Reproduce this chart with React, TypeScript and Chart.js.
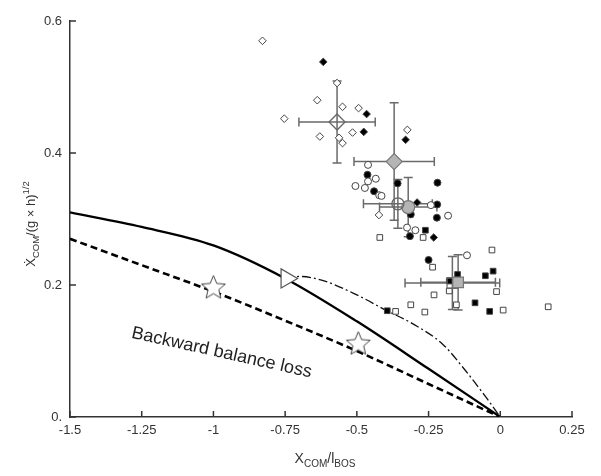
import { useEffect, useRef } from "react";
import { Chart, registerables } from "chart.js";

Chart.register(...registerables);

const xTickValues = [-1.5, -1.25, -1, -0.75, -0.5, -0.25, 0, 0.25];
const xTickLabels = ["-1.5", "-1.25", "-1", "-0.75", "-0.5", "-0.25", "0", "0.25"];
const yTickValues = [0, 0.2, 0.4, 0.6];
const yTickLabels = ["0.", "0.2", "0.4", "0.6"];

// boundary curves
const solidX = [-1.5, -1.25, -1.0, -0.75, -0.5, -0.25, 0];
const solidY = [0.31, 0.288, 0.26, 0.21, 0.145, 0.073, 0];
const dashedX = [-1.5, -1.25, -1.0, -0.75, -0.5, -0.25, 0];
const dashedY = [0.27, 0.23, 0.19, 0.146, 0.1, 0.05, 0];
const dashDotX = [-0.75, -0.7, -0.62, -0.5, -0.4, -0.3, -0.2, -0.13, -0.05, 0];
const dashDotY = [0.21, 0.213, 0.207, 0.185, 0.162, 0.14, 0.11, 0.075, 0.03, 0];

// special markers
const triangleX = [-0.745];
const triangleY = [0.21];
const starX = [-1.0, -0.495];
const starY = [0.197, 0.112];

// individual subjects
const openDiamondX = [-0.829, -0.569, -0.638, -0.55, -0.494, -0.753, -0.629, -0.515, -0.562, -0.55, -0.324, -0.423];
const openDiamondY = [0.57, 0.506, 0.48, 0.47, 0.468, 0.452, 0.425, 0.431, 0.423, 0.415, 0.435, 0.306];
const filledDiamondX = [-0.617, -0.466, -0.476, -0.33, -0.29, -0.232];
const filledDiamondY = [0.538, 0.459, 0.432, 0.42, 0.325, 0.272];
const openCircleX = [-0.461, -0.434, -0.461, -0.505, -0.472, -0.422, -0.414, -0.242, -0.182, -0.325, -0.296, -0.116];
const openCircleY = [0.382, 0.361, 0.357, 0.35, 0.347, 0.336, 0.335, 0.321, 0.305, 0.287, 0.283, 0.245];
const filledCircleX = [-0.463, -0.44, -0.358, -0.219, -0.22, -0.312, -0.221, -0.315, -0.25];
const filledCircleY = [0.367, 0.342, 0.354, 0.355, 0.322, 0.307, 0.302, 0.274, 0.238];
const openSquareX = [-0.42, -0.269, -0.029, -0.236, -0.178, -0.013, -0.231, -0.312, -0.153, -0.263, 0.01, -0.365, 0.167];
const openSquareY = [0.272, 0.272, 0.253, 0.227, 0.191, 0.19, 0.185, 0.17, 0.17, 0.159, 0.162, 0.16, 0.167];
const filledSquareX = [-0.261, -0.025, -0.052, -0.149, -0.178, -0.088, -0.037, -0.394];
const filledSquareY = [0.283, 0.221, 0.214, 0.216, 0.206, 0.173, 0.16, 0.161];

// group means and SDs: open diamond, grey diamond, open circle, grey circle, open square, grey square
const meanX = [-0.569, -0.37, -0.357, -0.321, -0.167, -0.147];
const meanY = [0.447, 0.387, 0.323, 0.318, 0.203, 0.204];
const meanErrX = [0.133, 0.14, 0.12, 0.1, 0.165, 0.13];
const meanErrY = [0.062, 0.089, 0.037, 0.045, 0.04, 0.042];

const FONT = "'Liberation Sans', Arial, Helvetica, sans-serif";

function pts(xs: number[], ys: number[]) {
  return xs.map((x, i) => ({ x, y: ys[i] }));
}

function makeStar(r: number) {
  const c = document.createElement("canvas");
  const s = Math.ceil(r * 2 + 4);
  c.width = s;
  c.height = s;
  const ctx = c.getContext("2d")!;
  const cx = s / 2;
  const cy = s / 2 + 1;
  ctx.beginPath();
  for (let i = 0; i < 10; i++) {
    const a = -Math.PI / 2 + (i * Math.PI) / 5;
    const rad = i % 2 ? r * 0.45 : r;
    const px = cx + rad * Math.cos(a);
    const py = cy + rad * Math.sin(a);
    if (i === 0) ctx.moveTo(px, py);
    else ctx.lineTo(px, py);
  }
  ctx.closePath();
  ctx.fillStyle = "#ffffff";
  ctx.fill();
  ctx.strokeStyle = "#444";
  ctx.lineWidth = 1;
  ctx.stroke();
  return c;
}

function drawSubText(
  ctx: CanvasRenderingContext2D,
  parts: { t: string; s: "n" | "sub" | "sup" }[],
  big: number,
  small: number
) {
  let w = 0;
  for (const p of parts) {
    ctx.font = `${p.s === "n" ? big : small}px ${FONT}`;
    w += ctx.measureText(p.t).width;
  }
  let x = -w / 2;
  for (const p of parts) {
    ctx.font = `${p.s === "n" ? big : small}px ${FONT}`;
    const dy = p.s === "sub" ? big * 0.3 : p.s === "sup" ? -big * 0.45 : 0;
    ctx.fillText(p.t, x, dy);
    x += ctx.measureText(p.t).width;
  }
}

const overlayPlugin = {
  id: "overlay",
  beforeDatasetsDraw(chart: any) {
    const { ctx, scales } = chart;
    const xs = scales.x;
    const ys = scales.y;
    ctx.save();
    ctx.strokeStyle = "#6a6a6a";
    ctx.lineWidth = 1.5;
    const cap = 4.5;
    meanX.forEach((mx, i) => {
      const px = xs.getPixelForValue(mx);
      const py = ys.getPixelForValue(meanY[i]);
      const x0 = xs.getPixelForValue(mx - meanErrX[i]);
      const x1 = xs.getPixelForValue(mx + meanErrX[i]);
      const y0 = ys.getPixelForValue(meanY[i] - meanErrY[i]);
      const y1 = ys.getPixelForValue(meanY[i] + meanErrY[i]);
      ctx.beginPath();
      ctx.moveTo(x0, py);
      ctx.lineTo(x1, py);
      ctx.moveTo(x0, py - cap);
      ctx.lineTo(x0, py + cap);
      ctx.moveTo(x1, py - cap);
      ctx.lineTo(x1, py + cap);
      ctx.moveTo(px, y0);
      ctx.lineTo(px, y1);
      ctx.moveTo(px - cap, y0);
      ctx.lineTo(px + cap, y0);
      ctx.moveTo(px - cap, y1);
      ctx.lineTo(px + cap, y1);
      ctx.stroke();
    });
    ctx.restore();
  },
  afterDraw(chart: any) {
    const { ctx, scales, chartArea } = chart;
    const xs = scales.x;
    const ys = scales.y;
    ctx.save();
    ctx.strokeStyle = "#333";
    ctx.lineWidth = 1.5;
    ctx.beginPath();
    xTickValues.forEach((v) => {
      const px = xs.getPixelForValue(v);
      ctx.moveTo(px, chartArea.bottom);
      ctx.lineTo(px, chartArea.bottom - 6);
    });
    yTickValues.forEach((v) => {
      const py = ys.getPixelForValue(v);
      ctx.moveTo(chartArea.left, py);
      ctx.lineTo(chartArea.left + 6, py);
    });
    ctx.stroke();

    ctx.fillStyle = "#333";
    ctx.textBaseline = "alphabetic";
    ctx.textAlign = "left";
    ctx.save();
    ctx.translate((chartArea.left + chartArea.right) / 2 + 4, 463);
    drawSubText(
      ctx,
      [
        { t: "X", s: "n" },
        { t: "COM", s: "sub" },
        { t: "/l", s: "n" },
        { t: "BOS", s: "sub" },
      ],
      14,
      10
    );
    ctx.restore();
    ctx.save();
    ctx.translate(35, (chartArea.top + chartArea.bottom) / 2 + 5);
    ctx.rotate(-Math.PI / 2);
    drawSubText(
      ctx,
      [
        { t: "\u1E8A", s: "n" },
        { t: "COM", s: "sub" },
        { t: "/(g \u00D7 h)", s: "n" },
        { t: "1/2", s: "sup" },
      ],
      13,
      9.5
    );
    ctx.restore();

    ctx.save();
    ctx.fillStyle = "#222";
    ctx.font = `18px ${FONT}`;
    ctx.textAlign = "center";
    ctx.translate(xs.getPixelForValue(-0.975), ys.getPixelForValue(0.09));
    ctx.rotate((12.5 * Math.PI) / 180);
    ctx.fillText("Backward balance loss", 0, 0);
    ctx.restore();

    ctx.restore();
  },
};

export default function App() {
  const ref = useRef<HTMLCanvasElement | null>(null);
  useEffect(() => {
    if (!ref.current) return;
    const star = makeStar(12.5);
    const small = { borderWidth: 1, borderColor: "#444" };
    const chart = new Chart(ref.current, {
      type: "scatter",
      data: {
        datasets: [
          {
            label: "open diamond mean",
            data: pts(meanX.slice(0, 1), meanY.slice(0, 1)),
            pointStyle: "rectRot",
            pointRadius: 8,
            backgroundColor: "rgba(255,255,255,0)",
            borderColor: "#666",
            borderWidth: 1.3,
          },
          {
            label: "grey diamond mean",
            data: pts(meanX.slice(1, 2), meanY.slice(1, 2)),
            pointStyle: "rectRot",
            pointRadius: 8,
            backgroundColor: "#b5b5b5",
            borderColor: "#777",
            borderWidth: 1.2,
          },
          {
            label: "open circle mean",
            data: pts(meanX.slice(2, 3), meanY.slice(2, 3)),
            pointStyle: "circle",
            pointRadius: 6,
            backgroundColor: "rgba(255,255,255,0)",
            borderColor: "#666",
            borderWidth: 1.3,
          },
          {
            label: "grey circle mean",
            data: pts(meanX.slice(3, 4), meanY.slice(3, 4)),
            pointStyle: "circle",
            pointRadius: 6.5,
            backgroundColor: "#b5b5b5",
            borderColor: "#777",
            borderWidth: 1.2,
          },
          {
            label: "grey square mean",
            data: pts(meanX.slice(5, 6), meanY.slice(5, 6)),
            pointStyle: "rect",
            pointRadius: 7.5,
            backgroundColor: "#b5b5b5",
            borderColor: "#777",
            borderWidth: 1.2,
          },
          {
            label: "open square mean",
            data: pts(meanX.slice(4, 5), meanY.slice(4, 5)),
            pointStyle: "rect",
            pointRadius: 7.5,
            backgroundColor: "rgba(255,255,255,0)",
            borderColor: "#666",
            borderWidth: 1.2,
          },
          {
            label: "open diamonds",
            data: pts(openDiamondX, openDiamondY),
            pointStyle: "rectRot",
            pointRadius: 3.8,
            backgroundColor: "#fff",
            ...small,
          },
          {
            label: "filled diamonds",
            data: pts(filledDiamondX, filledDiamondY),
            pointStyle: "rectRot",
            pointRadius: 3.8,
            backgroundColor: "#000",
            ...small,
          },
          {
            label: "open circles",
            data: pts(openCircleX, openCircleY),
            pointStyle: "circle",
            pointRadius: 3.5,
            backgroundColor: "#fff",
            ...small,
          },
          {
            label: "filled circles",
            data: pts(filledCircleX, filledCircleY),
            pointStyle: "circle",
            pointRadius: 3.5,
            backgroundColor: "#000",
            ...small,
          },
          {
            label: "open squares",
            data: pts(openSquareX, openSquareY),
            pointStyle: "rect",
            pointRadius: 4,
            backgroundColor: "#fff",
            ...small,
          },
          {
            label: "filled squares",
            data: pts(filledSquareX, filledSquareY),
            pointStyle: "rect",
            pointRadius: 4,
            backgroundColor: "#000",
            ...small,
          },
          {
            label: "stars",
            data: pts(starX, starY),
            pointStyle: star,
            pointRadius: 12.5,
          },
          {
            label: "triangle",
            data: pts(triangleX, triangleY),
            pointStyle: "triangle",
            rotation: 90,
            pointRadius: 11,
            backgroundColor: "#fff",
            borderColor: "#555",
            borderWidth: 1.2,
          },
          {
            label: "dash-dot",
            data: pts(dashDotX, dashDotY),
            showLine: true,
            pointRadius: 0,
            borderColor: "#111",
            borderWidth: 1.3,
            borderDash: [9, 3, 2, 3],
            cubicInterpolationMode: "monotone",
          },
          {
            label: "solid",
            data: pts(solidX, solidY),
            showLine: true,
            pointRadius: 0,
            borderColor: "#000",
            borderWidth: 2.3,
            cubicInterpolationMode: "monotone",
          },
          {
            label: "dashed",
            data: pts(dashedX, dashedY),
            showLine: true,
            pointRadius: 0,
            borderColor: "#000",
            borderWidth: 2.6,
            borderDash: [7, 4],
            cubicInterpolationMode: "monotone",
          },
        ] as any,
      },
      options: {
        animation: false,
        responsive: false,
        maintainAspectRatio: false,
        layout: { padding: { top: 21, right: 29, left: 0, bottom: 0 } },
        plugins: { legend: { display: false }, tooltip: { enabled: false } },
        scales: {
          x: {
            type: "linear",
            min: -1.5,
            max: 0.25,
            afterBuildTicks: (s: any) => {
              s.ticks = xTickValues.map((v) => ({ value: v }));
            },
            afterFit: (s: any) => {
              s.height = 59;
            },
            ticks: {
              padding: 6,
              color: "#333",
              font: { family: FONT, size: 13 },
              maxRotation: 0,
              autoSkip: false,
              callback: (v: any) => xTickLabels[xTickValues.indexOf(Number(v))] ?? "",
            },
            grid: { display: false, drawTicks: false },
            border: { display: true, color: "#333", width: 1.5 },
          },
          y: {
            type: "linear",
            min: 0,
            max: 0.6,
            afterBuildTicks: (s: any) => {
              s.ticks = yTickValues.map((v) => ({ value: v }));
            },
            afterFit: (s: any) => {
              s.width = 70;
            },
            ticks: {
              padding: 8,
              color: "#333",
              font: { family: FONT, size: 13 },
              autoSkip: false,
              callback: (v: any) => yTickLabels[yTickValues.indexOf(Number(v))] ?? "",
            },
            grid: { display: false, drawTicks: false },
            border: { display: true, color: "#333", width: 1.5 },
          },
        },
      } as any,
      plugins: [overlayPlugin as any],
    });
    return () => chart.destroy();
  }, []);
  return (
    <div style={{ position: "fixed", left: 0, top: 0, width: 601, height: 476, background: "#fff" }}>
      <canvas ref={ref} width={601} height={476} style={{ display: "block" }} />
    </div>
  );
}
